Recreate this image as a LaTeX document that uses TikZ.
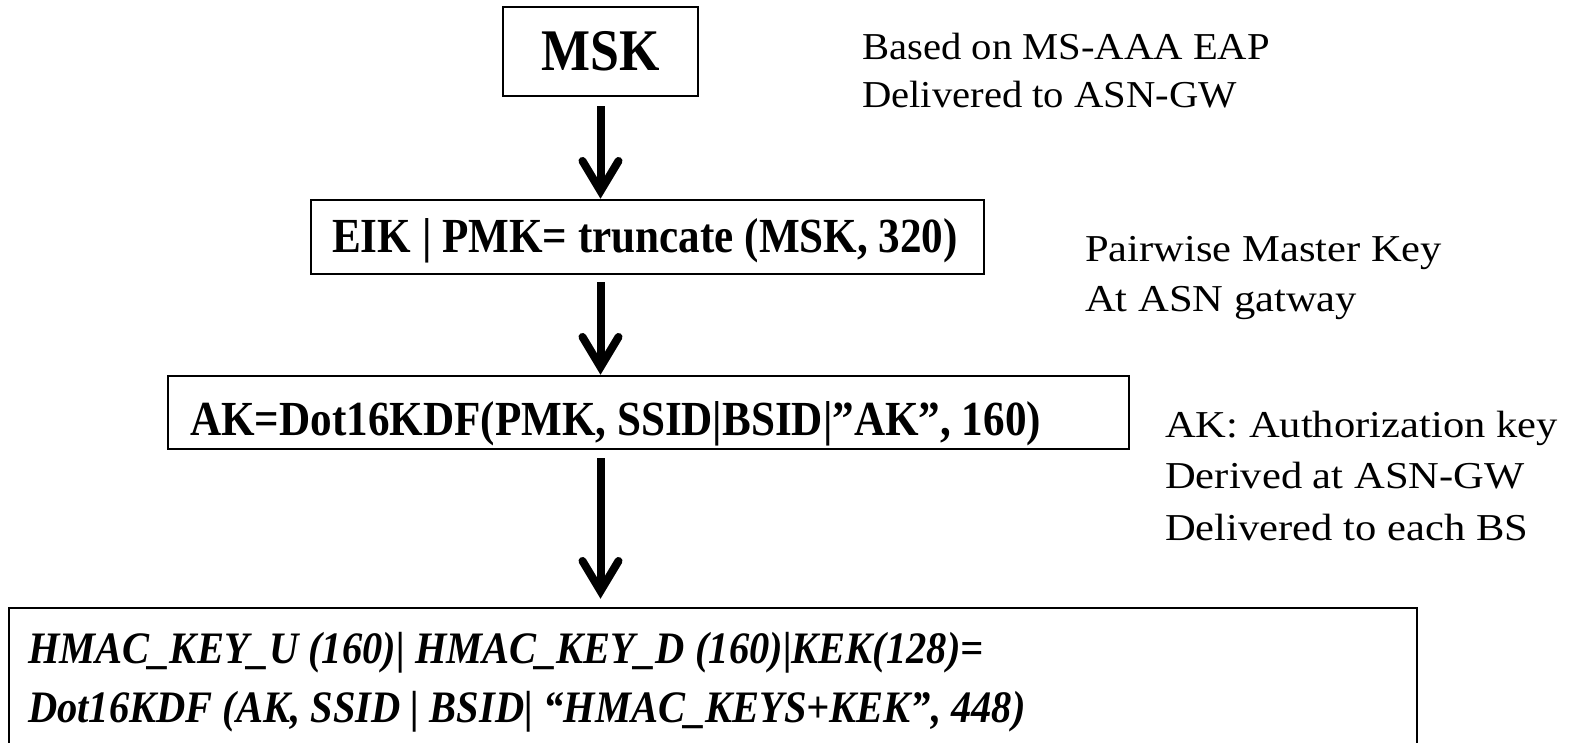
\documentclass[tikz,border=0pt]{standalone}
\usepackage{fontspec}
\setmainfont{Liberation Serif}
\newfontfamily\narrowserif[FakeStretch=0.88]{Liberation Serif}
\newfontfamily\formulaserif[FakeStretch=0.9]{Liberation Serif}
\newfontfamily\notewide[FakeStretch=1.07]{Liberation Serif}
\newfontfamily\notewider[FakeStretch=1.12]{Liberation Serif}
\usetikzlibrary{arrows.meta}

\tikzset{
  keybox/.style={draw, line width=2.5pt, rectangle, inner sep=0pt, anchor=center},
  flow/.style={line width=8pt, line cap=butt,
    -{Straight Barb[length=30pt, width=36pt, line cap=round]}},
  boxtext/.style={anchor=base west, inner sep=0pt,
    font=\narrowserif\bfseries\fontsize{49}{49}\selectfont},
  formula/.style={anchor=base west, inner sep=0pt,
    font=\formulaserif\bfseries\itshape\fontsize{45}{45}\selectfont},
  note/.style={anchor=base west, inner sep=0pt,
    font=\notewider\fontsize{38}{38}\selectfont},
  topnote/.style={note, font=\notewide\fontsize{38}{38}\selectfont}
}

\begin{document}
\begin{tikzpicture}[x=1pt, y=-1pt]
  \useasboundingbox (0,0) rectangle (1575,743);
  \clip (0,0) rectangle (1575,743);

  % key derivation chain
  \node[keybox, minimum width=195pt, minimum height=89pt,
        font=\narrowserif\bfseries\fontsize{59}{59}\selectfont]
        (msk) at (600.5,51.5) {MSK};
  \node[keybox, minimum width=673pt, minimum height=74pt] (eik) at (647.5,237) {};
  \node[keybox, minimum width=961pt, minimum height=73pt] (ak) at (648.5,412.5) {};
  \node[keybox, minimum width=1408pt, minimum height=162pt] (hmac) at (713,689) {};

  % box contents
  \node[boxtext] (eiktext) at (332,253) {EIK | PMK= truncate (MSK, 320)};
  \node[boxtext] (aktext) at (190,435) {AK=Dot16KDF(PMK, SSID|BSID|”AK”, 160)};
  \node[formula] (hmac1) at (28,663) {HMAC\_KEY\_U (160)| HMAC\_KEY\_D (160)|KEK(128)=};
  \node[formula] (hmac2) at (28,722) {Dot16KDF (AK, SSID | BSID| “HMAC\_KEYS+KEK”, 448)};

  % arrows between the stages
  \draw[flow, shorten <=9pt] (msk.south) -- (msk.south |- eik.north);
  \draw[flow, shorten <=7pt] (msk.south |- eik.south) -- (msk.south |- ak.north);
  \draw[flow, shorten <=8pt, shorten >=8pt] (msk.south |- ak.south) -- (msk.south |- hmac.north);

  % side notes
  \node[topnote] (n1a) at (862,60) {Based on MS-AAA EAP};
  \node[topnote] (n1b) at (862,108) {Delivered to ASN-GW};
  \node[note] (n2a) at (1085,262) {Pairwise Master Key};
  \node[note] (n2b) at (1085,312) {At ASN gatway};
  \node[note] (n3a) at (1165,437) {AK: Authorization key};
  \node[note] (n3b) at (1165,488) {Derived at ASN-GW};
  \node[note] (n3c) at (1165,540) {Delivered to each BS};
\end{tikzpicture}
\end{document}
